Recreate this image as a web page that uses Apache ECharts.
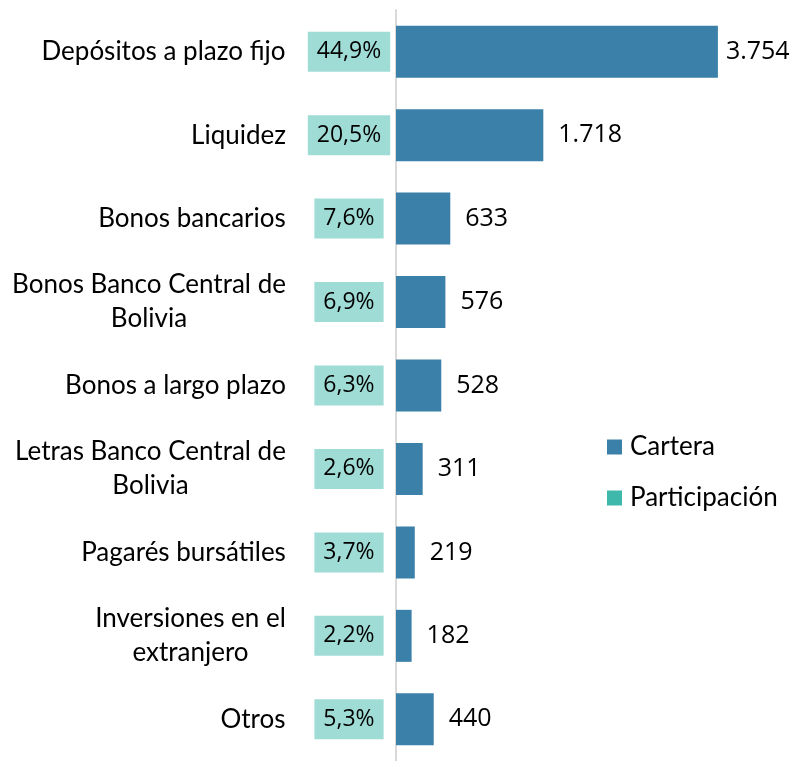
<!DOCTYPE html>
<html>
<head>
<meta charset="utf-8">
<script src="https://cdn.jsdelivr.net/npm/echarts@6/dist/echarts.min.js"></script>
<style>
  html, body { margin: 0; padding: 0; background: #fff; }
  #chart { width: 792px; height: 761px; }
</style>
</head>
<body>
<div id="chart"></div>
<script>
// Portfolio composition: amount held per instrument and its share of the total
const categories = [
  'Depósitos a plazo fijo',
  'Liquidez',
  'Bonos bancarios',
  'Bonos Banco Central de Bolivia',
  'Bonos a largo plazo',
  'Letras Banco Central de Bolivia',
  'Pagarés bursátiles',
  'Inversiones en el extranjero',
  'Otros'
];
const cartera = [3754, 1718, 633, 576, 528, 311, 219, 182, 440];
const participacion = [44.9, 20.5, 7.6, 6.9, 6.3, 2.6, 3.7, 2.2, 5.3];

const TEXT_FONT = 'Lato, "Open Sans", sans-serif';
const NUM_FONT = '"Open Sans", Lato, sans-serif';
const CAT_FS = 26;
const WRAP_WIDTH = 285;
const CHART_W = 792;

// Measure text so wrapped category labels can be centred line by line
const ctx = document.createElement('canvas').getContext('2d');
ctx.font = CAT_FS + 'px ' + TEXT_FONT;
const measure = s => ctx.measureText(s).width;

function wrap(text) {
  const words = text.split(' ');
  const lines = [];
  let cur = '';
  words.forEach(w => {
    const trial = cur ? cur + ' ' + w : w;
    if (cur && measure(trial) > WRAP_WIDTH) { lines.push(cur); cur = w; }
    else cur = trial;
  });
  if (cur) lines.push(cur);
  return lines;
}

const wrapped = categories.map(wrap);
const rich = {};
wrapped.forEach((lines, i) => {
  const w = Math.ceil(Math.max(...lines.map(measure)));
  rich['c' + i] = { width: w, align: 'center', fontSize: CAT_FS, fontFamily: TEXT_FONT, color: '#000', lineHeight: 34 };
});

const fmtThousands = v => String(v).replace(/\B(?=(\d{3})+(?!\d))/g, '.');
const fmtPct = v => v.toFixed(1).replace('.', ',') + '%';

const chart = echarts.init(document.getElementById('chart'));
chart.setOption({
  backgroundColor: '#fff',
  animation: false,
  grid: { left: 396, width: 343, top: 10, height: 757, containLabel: false },
  legend: {
    orient: 'vertical',
    left: 602,
    top: 428,
    itemWidth: 15,
    itemHeight: 15,
    itemGap: 23,
    icon: 'rect',
    textStyle: { fontSize: CAT_FS, lineHeight: 28, fontFamily: TEXT_FONT, color: '#000', padding: [0, 0, 0, 3] },
    data: [
      { name: 'Cartera', itemStyle: { color: '#3A80A9' } },
      { name: 'Participación', itemStyle: { color: '#3DB8AA' } }
    ]
  },
  xAxis: {
    type: 'value',
    min: 0,
    max: 4000,
    show: false
  },
  yAxis: {
    type: 'category',
    inverse: true,
    data: categories,
    axisLine: { show: true, lineStyle: { color: '#D9D9D9', width: 2 } },
    axisTick: { show: false },
    axisLabel: {
      margin: 110,
      align: 'right',
      formatter: (value, idx) => wrapped[idx].map(l => '{c' + idx + '|' + l + '}').join('\n'),
      rich: rich
    }
  },
  series: [
    {
      name: 'Participación',
      type: 'bar',
      data: participacion,
      barWidth: 52,
      barGap: '-100%',
      itemStyle: { color: 'rgba(0,0,0,0)' },
      z: 3,
      label: {
        show: true,
        position: [-47, '50%'],
        align: 'center',
        verticalAlign: 'middle',
        formatter: p => fmtPct(p.value),
        backgroundColor: '#A0DCD6',
        padding: [9, 9],
        lineHeight: 22,
        fontSize: 23,
        fontFamily: NUM_FONT,
        color: '#000'
      }
    },
    {
      name: 'Cartera',
      type: 'bar',
      data: cartera,
      barWidth: 52,
      itemStyle: { color: '#3A80A9' },
      z: 2,
      label: {
        show: true,
        position: 'right',
        distance: 15,
        formatter: p => fmtThousands(p.value),
        fontSize: 25,
        fontFamily: NUM_FONT,
        color: '#000'
      },
      // keep value labels of long bars inside the canvas by tightening the gap
      labelLayout: p => {
        const r = p.labelRect;
        if (r.x + r.width > CHART_W - 6) {
          return { x: p.rect.x + p.rect.width + 8, y: r.y + r.height / 2, align: 'left', verticalAlign: 'middle' };
        }
        return {};
      }
    }
  ]
});
</script>
</body>
</html>
